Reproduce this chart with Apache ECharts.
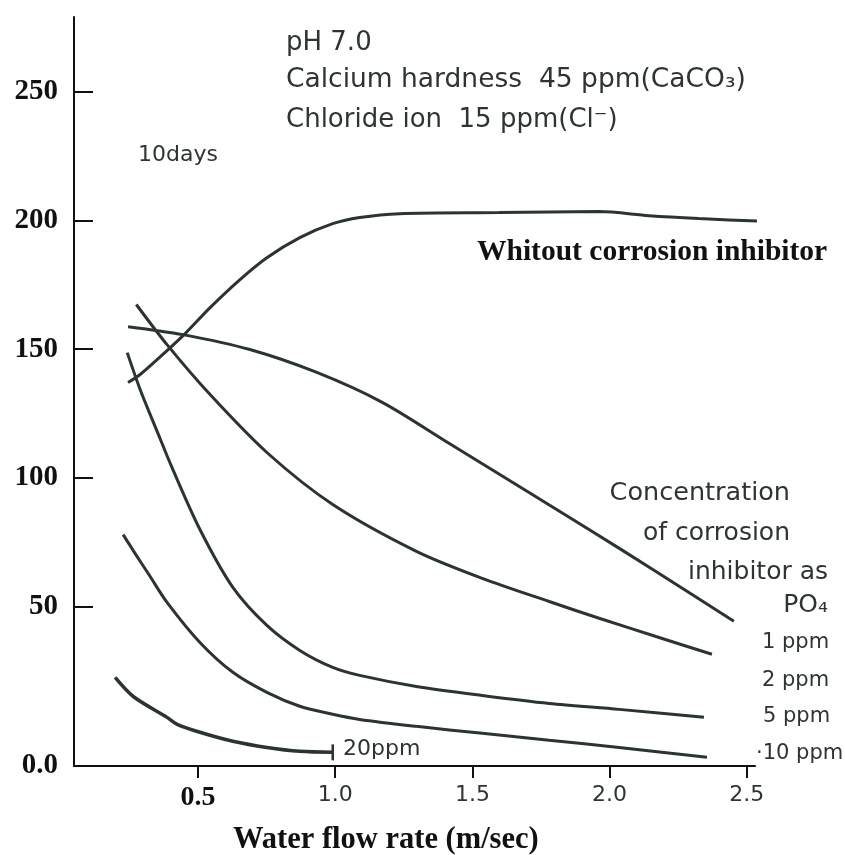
<!DOCTYPE html>
<html>
<head>
<meta charset="utf-8">
<title>Corrosion vs water flow rate</title>
<script src="https://cdn.jsdelivr.net/npm/echarts@6/dist/echarts.min.js"></script>
<style>
  html, body { margin: 0; padding: 0; background: #fff; }
  #chart { width: 845px; height: 855px; }
</style>
</head>
<body>
<div id="chart"></div>
<script>
// ticks printed on the figure (the bottom axis is labelled "0.0")
const xTicks = [0.5, 1.0, 1.5, 2.0, 2.5]
const yTicks = [50, 100, 150, 200, 250]
const yAxisBottom = -12

// curves: [flow rate m/sec, corrosion]
const noInhibitor = [[0.245,137.0],[0.289,140.1],[0.391,149.8],[0.453,156.0],[0.544,166.1],[0.653,177.0],[0.751,185.5],[0.871,193.3],[0.991,198.7],[1.089,201.1],[1.235,202.6],[1.598,203.0],[1.962,203.4],[2.144,201.8],[2.325,200.7],[2.58,199.5]]
const ppm1 = [[0.245,158.7],[0.445,155.6],[0.689,149.8],[0.933,140.9],[1.173,129.2],[1.416,113.3],[1.671,96.6],[1.925,79.9],[2.169,63.6],[2.453,44.2]]
const ppm2 = [[0.275,167.3],[0.387,151.7],[0.544,132.3],[0.751,109.8],[0.991,89.6],[1.296,71.4],[1.536,60.9],[1.78,51.9],[1.962,45.4],[2.169,38.3],[2.373,31.4]]
const ppm5 = [[0.242,148.6],[0.289,134.3],[0.351,118.0],[0.405,104.0],[0.507,79.9],[0.627,57.4],[0.751,42.6],[0.871,32.9],[0.991,26.3],[1.089,23.2],[1.296,18.9],[1.536,15.4],[1.78,12.3],[2.035,10.0],[2.344,6.9]]
const ppm10 = [[0.227,77.9],[0.264,71.7],[0.325,61.7],[0.387,51.6],[0.507,36.0],[0.627,24.4],[0.751,16.6],[0.871,11.2],[0.991,8.1],[1.089,6.1],[1.296,3.4],[1.536,0.7],[1.78,-2.0],[2.035,-4.8],[2.355,-8.6]]
const ppm20 = [[0.198,22.4],[0.264,15.0],[0.387,6.9],[0.424,4.2],[0.507,1.1],[0.627,-2.4],[0.751,-4.8],[0.871,-6.3],[0.991,-6.7]]

const lineColor = '#2b3430'
const textColor = '#2e3531'
const sans = '"DejaVu Sans", sans-serif'
const serif = '"Liberation Serif", "DejaVu Serif", serif'

function curve(name, data, width) {
  return {
    name: name,
    type: 'line',
    data: data,
    smooth: 0.3,
    symbol: 'none',
    clip: false,
    lineStyle: { color: lineColor, width: width || 3 },
    silent: true
  }
}

// 20 ppm curve ends with a small vertical bar
let ppm20Data = ppm20.map((p, i) => i === ppm20.length - 1
  ? { value: p, symbol: 'rect', symbolSize: [2.5, 16], itemStyle: { color: lineColor } }
  : p)

function label(text, x, y, size, align, font, weight) {
  return {
    type: 'text',
    x: x,
    y: y,
    silent: true,
    style: {
      text: text,
      fill: font === serif ? '#111' : textColor,
      font: (weight || 'normal') + ' ' + size + 'px ' + (font || sans),
      textAlign: align || 'left',
      textVerticalAlign: 'middle'
    }
  }
}

const chart = echarts.init(document.getElementById('chart'))
chart.setOption({
  backgroundColor: '#fff',
  animation: false,
  grid: { left: 74, right: 90, top: 17, bottom: 89, outerBoundsMode: 'none' },
  xAxis: {
    type: 'value',
    min: 0.048,
    max: 2.53,
    axisLine: { show: true, onZero: false, lineStyle: { color: '#111', width: 2 } },
    axisTick: { show: true, customValues: xTicks, inside: false, length: 12, lineStyle: { color: '#111', width: 2 } },
    axisLabel: {
      customValues: xTicks,
      margin: 18,
      formatter: v => v < 0.75 ? '{s|' + v.toFixed(1) + '}' : '{n|' + v.toFixed(1) + '}',
      rich: {
        s: { fontFamily: serif, fontWeight: 'bold', fontSize: 28, color: '#111' },
        n: { fontFamily: sans, fontSize: 22, color: textColor }
      }
    },
    splitLine: { show: false }
  },
  yAxis: {
    type: 'value',
    min: yAxisBottom,
    max: 279,
    axisLine: { show: true, onZero: false, lineStyle: { color: '#111', width: 2 } },
    axisTick: { show: true, customValues: yTicks, inside: true, length: 19, lineStyle: { color: '#111', width: 2 } },
    axisLabel: {
      customValues: [yAxisBottom].concat(yTicks),
      margin: 16,
      formatter: v => v === yAxisBottom ? '0.0' : String(v),
      fontFamily: serif,
      fontWeight: 'bold',
      fontSize: 29,
      color: '#111'
    },
    splitLine: { show: false }
  },
  series: [
    curve('Whitout corrosion inhibitor', noInhibitor),
    curve('1 ppm', ppm1),
    curve('2 ppm', ppm2),
    curve('5 ppm', ppm5),
    curve('10 ppm', ppm10),
    curve('20ppm', ppm20Data, 3.5)
  ],
  graphic: [
    label('pH 7.0', 286, 43, 26),
    label('Calcium hardness  45 ppm(CaCO\u2083)', 286, 80, 26.5),
    label('Chloride ion  15 ppm(Cl\u207b)', 286, 120, 26),
    label('10days', 138, 155, 22),
    label('Whitout corrosion inhibitor', 477, 252, 29.5, 'left', serif, 'bold'),
    label('Concentration', 790, 493, 25.5, 'right'),
    label('of corrosion', 790, 533, 25, 'right'),
    label('inhibitor as', 828, 572, 25, 'right'),
    label('PO\u2084', 828, 605, 25, 'right'),
    label('1 ppm', 762, 643, 21),
    label('2 ppm', 762, 681, 21),
    label('5 ppm', 763, 717, 21),
    label('\u00b710 ppm', 756, 754, 21),
    label('20ppm', 343, 749, 22),
    label('Water flow rate (m/sec)', 233, 840, 30.5, 'left', serif, 'bold')
  ]
})
window.addEventListener('resize', () => { chart.resize() })
</script>
</body>
</html>
